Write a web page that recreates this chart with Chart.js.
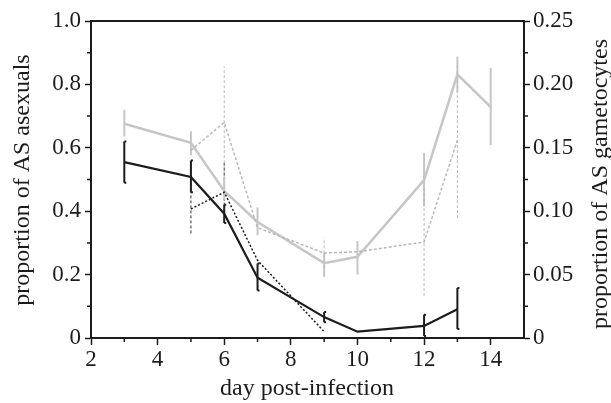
<!DOCTYPE html>
<html>
<head>
<meta charset="utf-8">
<script src="https://cdn.jsdelivr.net/npm/chart.js@4"></script>
<style>
  html, body { margin: 0; padding: 0; background: #fff; }
  #wrap { width: 611px; height: 403px; }
</style>
</head>
<body>
<div id="wrap"><canvas id="grafico" width="611" height="403"></canvas></div>
<script>
// asexuals (left axis)
const asexDays = [3, 5, 6, 7, 9, 10, 12, 13];
const asexMean = [0.555, 0.508, 0.392, 0.19, 0.066, 0.02, 0.038, 0.091];
const asexLo = [0.49, 0.46, 0.363, 0.15, 0.05, null, 0.006, 0.028];
const asexHi = [0.62, 0.56, 0.42, 0.235, 0.082, null, 0.073, 0.158];

const asexDotDays = [5, 6, 7, 9];
const asexDot = [0.407, 0.46, 0.245, 0.02];
const asexDotLo = [0.33, 0.37, null, null];
const asexDotHi = [0.49, 0.555, null, null];

// gametocytes (right axis)
const gamDays = [3, 5, 6, 7, 9, 10, 12, 13, 14];
const gamMean = [0.169, 0.154, 0.116, 0.0915, 0.059, 0.064, 0.1246, 0.208, 0.182];
const gamLo = [0.159, 0.144, 0.109, 0.081, 0.048, 0.05, 0.104, 0.194, 0.152];
const gamHi = [0.18, 0.163, 0.127, 0.103, 0.067, 0.0765, 0.146, 0.222, 0.213];

const gamDotDays = [5, 6, 7, 9, 10, 12, 13];
const gamDot = [0.148, 0.17, 0.087, 0.067, 0.068, 0.0757, 0.156];
const gamDotLo = [null, 0.126, null, 0.055, null, 0.033, 0.0945];
const gamDotHi = [null, 0.214, null, 0.079, null, 0.119, 0.217];

const xTicks = [2, 4, 6, 8, 10, 12, 14];
const xMinor = [3, 5, 7, 9, 11, 13];
const yTicks = [0, 0.2, 0.4, 0.6, 0.8, 1.0];
const yMinor = [0.1, 0.3, 0.5, 0.7, 0.9];
const y2Ticks = [0, 0.05, 0.1, 0.15, 0.2, 0.25];
const y2Minor = [0.025, 0.075, 0.125, 0.175, 0.225];

const SERIF = "'Liberation Serif', 'DejaVu Serif', serif";
const INK = "#1c1c1c";
const GREY = "#c6c6c6";
const GREY_DOT = "#b9b9b9";

function pts(xs, ys) { return xs.map((d, i) => ({ x: d, y: ys[i] })); }

const errores = [
  { days: asexDays, lo: asexLo, hi: asexHi, axis: "y", color: INK, width: 2, dash: [], cap: 2 },
  { days: asexDotDays, lo: asexDotLo, hi: asexDotHi, axis: "y", color: "#333", width: 1, dash: [3, 2], cap: 0 },
  { days: gamDays, lo: gamLo, hi: gamHi, axis: "y2", color: GREY, width: 2, dash: [], cap: 0 },
  { days: gamDotDays, lo: gamDotLo, hi: gamDotHi, axis: "y2", color: GREY_DOT, width: 1, dash: [3, 2], cap: 0 }
];

const extras = {
  id: "extras",
  beforeDatasetsDraw(chart) {
    const ctx = chart.ctx;
    const x = chart.scales.x;
    ctx.save();
    errores.forEach(e => {
      const s = chart.scales[e.axis];
      ctx.strokeStyle = e.color;
      ctx.lineWidth = e.width;
      ctx.setLineDash(e.dash);
      e.days.forEach((d, i) => {
        if (e.lo[i] == null) return;
        const px = x.getPixelForValue(d);
        const y1 = s.getPixelForValue(e.lo[i]);
        const y2 = s.getPixelForValue(e.hi[i]);
        ctx.beginPath();
        ctx.moveTo(px, y1); ctx.lineTo(px, y2);
        if (e.cap) {
          ctx.moveTo(px, y1); ctx.lineTo(px + e.cap, y1);
          ctx.moveTo(px, y2); ctx.lineTo(px + e.cap, y2);
        }
        ctx.stroke();
      });
    });
    ctx.restore();
  },
  afterDraw(chart) {
    const ctx = chart.ctx;
    const a = chart.chartArea;
    const x = chart.scales.x, y = chart.scales.y, y2 = chart.scales.y2;
    ctx.save();
    ctx.strokeStyle = INK;
    ctx.lineWidth = 2;
    ctx.beginPath();
    ctx.moveTo(a.left, a.top); ctx.lineTo(a.right, a.top);
    ctx.stroke();
    // short minor ticks, outside the box
    ctx.lineWidth = 1.5;
    ctx.beginPath();
    xMinor.forEach(v => { const p = x.getPixelForValue(v); ctx.moveTo(p, a.bottom); ctx.lineTo(p, a.bottom + 4); });
    yMinor.forEach(v => { const p = y.getPixelForValue(v); ctx.moveTo(a.left, p); ctx.lineTo(a.left - 4, p); });
    y2Minor.forEach(v => { const p = y2.getPixelForValue(v); ctx.moveTo(a.right, p); ctx.lineTo(a.right + 4, p); });
    ctx.stroke();

    ctx.fillStyle = INK;
    ctx.font = "24px " + SERIF;
    ctx.textAlign = "center";
    ctx.textBaseline = "middle";
    ctx.save();
    ctx.translate(23, 180);
    ctx.rotate(-Math.PI / 2);
    ctx.fillText("proportion of AS asexuals", 0, 0);
    ctx.restore();
    ctx.save();
    ctx.translate(601, 184);
    ctx.rotate(-Math.PI / 2);
    ctx.fillText("proportion of AS gametocytes", 0, 0);
    ctx.restore();
    ctx.fillText("day post-infection", 307, 389);
    ctx.restore();
  }
};

const ctx = document.getElementById("grafico").getContext("2d");
new Chart(ctx, {
  type: "line",
  data: {
    datasets: [
      { data: pts(asexDotDays, asexDot), yAxisID: "y", borderColor: INK, borderWidth: 1.5, borderDash: [2, 2] },
      { data: pts(gamDotDays, gamDot), yAxisID: "y2", borderColor: GREY_DOT, borderWidth: 1.5, borderDash: [3, 2] },
      { data: pts(gamDays, gamMean), yAxisID: "y2", borderColor: GREY, borderWidth: 2.5 },
      { data: pts(asexDays, asexMean), yAxisID: "y", borderColor: INK, borderWidth: 2.2 }
    ]
  },
  options: {
    responsive: false,
    animation: false,
    layout: { padding: { top: 21, left: 0, right: 0, bottom: 0 } },
    elements: { point: { radius: 0 }, line: { tension: 0, fill: false } },
    plugins: { legend: { display: false }, tooltip: { enabled: false } },
    scales: {
      x: {
        type: "linear", min: 2, max: 15,
        afterBuildTicks: s => { s.ticks = xTicks.map(v => ({ value: v })); },
        afterFit: s => { s.height = 65; },
        grid: { drawOnChartArea: false, tickLength: 7, tickColor: INK, tickWidth: 1.5 },
        border: { color: INK, width: 2 },
        ticks: { color: INK, font: { family: SERIF, size: 23 }, padding: 1, maxRotation: 0 }
      },
      y: {
        position: "left", min: 0, max: 1,
        afterBuildTicks: s => { s.ticks = yTicks.map(v => ({ value: v })); },
        afterFit: s => { s.width = 91; },
        grid: { drawOnChartArea: false, tickLength: 6, tickColor: INK, tickWidth: 1.5 },
        border: { color: INK, width: 2 },
        ticks: { color: INK, font: { family: SERIF, size: 23 }, padding: 4,
          callback: v => v === 0 ? "0" : v.toFixed(1) }
      },
      y2: {
        position: "right", min: 0, max: 0.25,
        afterBuildTicks: s => { s.ticks = y2Ticks.map(v => ({ value: v })); },
        afterFit: s => { s.width = 87; },
        grid: { drawOnChartArea: false, tickLength: 6, tickColor: INK, tickWidth: 1.5 },
        border: { color: INK, width: 2 },
        ticks: { color: INK, font: { family: SERIF, size: 23 }, padding: 3,
          callback: v => v === 0 ? "0" : v.toFixed(2) }
      }
    }
  },
  plugins: [extras]
});
</script>
</body>
</html>
